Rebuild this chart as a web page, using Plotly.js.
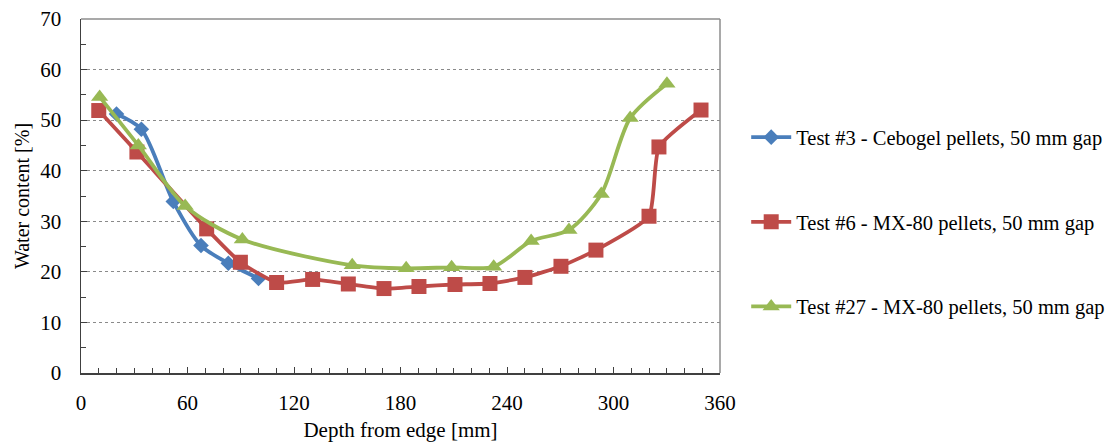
<!DOCTYPE html>
<html>
<head>
<meta charset="utf-8">
<script src="https://cdn.plot.ly/plotly-3.0.1.min.js"></script>
<style>
  html, body { margin: 0; padding: 0; background: #fff; }
  #chart { width: 1113px; height: 446px; }
</style>
</head>
<body>
<div id="chart"></div>
<script>
// Water content profiles across the sample depth
const test3Depth = [20, 34, 52, 67.6, 83, 100];
const test3Water = [51.2, 48.2, 33.9, 25.2, 21.7, 18.7];

const test6Depth = [10, 31.5, 70.8, 89.8, 110.2, 130.5, 150.6, 170.7, 190.4, 210.7, 230.4, 250.1, 270.4, 290.1, 320, 325.6, 349.3];
const test6Water = [51.9, 43.7, 28.5, 21.9, 17.9, 18.5, 17.6, 16.7, 17.1, 17.5, 17.7, 18.9, 21.1, 24.3, 31.0, 44.7, 52.0];

const test27Depth = [10.5, 32.3, 58.7, 90.9, 152.8, 183.2, 208.8, 232.5, 253.6, 274.9, 293.1, 309.4, 330.1];
const test27Water = [54.6, 45.0, 33.0, 26.4, 21.3, 20.7, 20.9, 21.0, 26.1, 28.3, 35.4, 50.4, 57.2];

const seriesNames = [
  'Test #3 - Cebogel pellets, 50 mm gap',
  'Test #6 - MX-80 pellets, 50 mm gap',
  'Test #27 - MX-80 pellets, 50 mm gap'
];

const serif = 'Liberation Serif';

const traces = [
  {
    x: test3Depth, y: test3Water, name: seriesNames[0], legendgroup: 'a',
    mode: 'lines+markers', type: 'scatter',
    line: { color: '#4A7EBB', width: 3.8, shape: 'spline', smoothing: 0.8 },
    marker: { symbol: 'diamond', size: 12, color: '#4A7EBB' }
  },
  {
    x: test6Depth, y: test6Water, name: seriesNames[1], legendgroup: 'b',
    mode: 'lines+markers', type: 'scatter',
    line: { color: '#BE4B48', width: 3.8, shape: 'spline', smoothing: 0.5 },
    marker: { symbol: 'square', size: 15, color: '#BE4B48' }
  },
  {
    x: test27Depth, y: test27Water, name: seriesNames[2], legendgroup: 'c',
    mode: 'lines+markers', type: 'scatter',
    line: { color: '#98B954', width: 3.8, shape: 'spline', smoothing: 0.8 },
    marker: { symbol: 'triangle-up', size: 15, color: '#98B954' }
  }
];

const layout = {
  width: 1113, height: 446,
  margin: { l: 81, r: 393, t: 19, b: 73, autoexpand: false },
  paper_bgcolor: '#fff', plot_bgcolor: '#fff',
  font: { family: serif, color: '#000', size: 20 },
  showlegend: true,
  legend: {
    x: 1.041, y: 0.427, xanchor: 'left', yanchor: 'middle',
    traceorder: 'grouped', tracegroupgap: 55,
    font: { family: serif, size: 20.5, color: '#000' },
    itemwidth: 40
  },
  xaxis: {
    range: [0, 360], dtick: 60, tick0: 0,
    showgrid: false, zeroline: false,
    showline: true, linecolor: '#404040', linewidth: 1.5,
    ticks: 'inside', ticklen: 6, tickcolor: '#404040',
    minor: { dtick: 10, ticks: 'inside', ticklen: 5, tickcolor: '#404040', showgrid: false },
    tickfont: { family: serif, size: 21 },
    ticklabelstandoff: 10,
    title: { text: 'Depth from edge [mm]', font: { family: serif, size: 21 }, standoff: 8 }
  },
  yaxis: {
    range: [0, 70], dtick: 10, tick0: 0,
    showgrid: true, gridcolor: '#8a8a8a', griddash: 'dot', gridwidth: 1,
    zeroline: false,
    showline: true, linecolor: '#404040', linewidth: 1.5,
    ticks: 'inside', ticklen: 6, tickcolor: '#404040',
    minor: { dtick: 5, ticks: 'inside', ticklen: 5, tickcolor: '#404040', showgrid: false },
    tickfont: { family: serif, size: 21 },
    ticklabelstandoff: 14,
    title: { text: 'Water content [%]', font: { family: serif, size: 20 }, standoff: 5 }
  },
  shapes: [
    { type: 'line', xref: 'paper', yref: 'paper', x0: 0, x1: 1, y0: 1, y1: 1,
      line: { color: '#8c8c8c', width: 1.5 } },
    { type: 'line', xref: 'paper', yref: 'paper', x0: 1, x1: 1, y0: 0, y1: 1,
      line: { color: '#8c8c8c', width: 1.5 } }
  ]
};

Plotly.newPlot('chart', traces, layout, { displayModeBar: false, staticPlot: true });
</script>
</body>
</html>
